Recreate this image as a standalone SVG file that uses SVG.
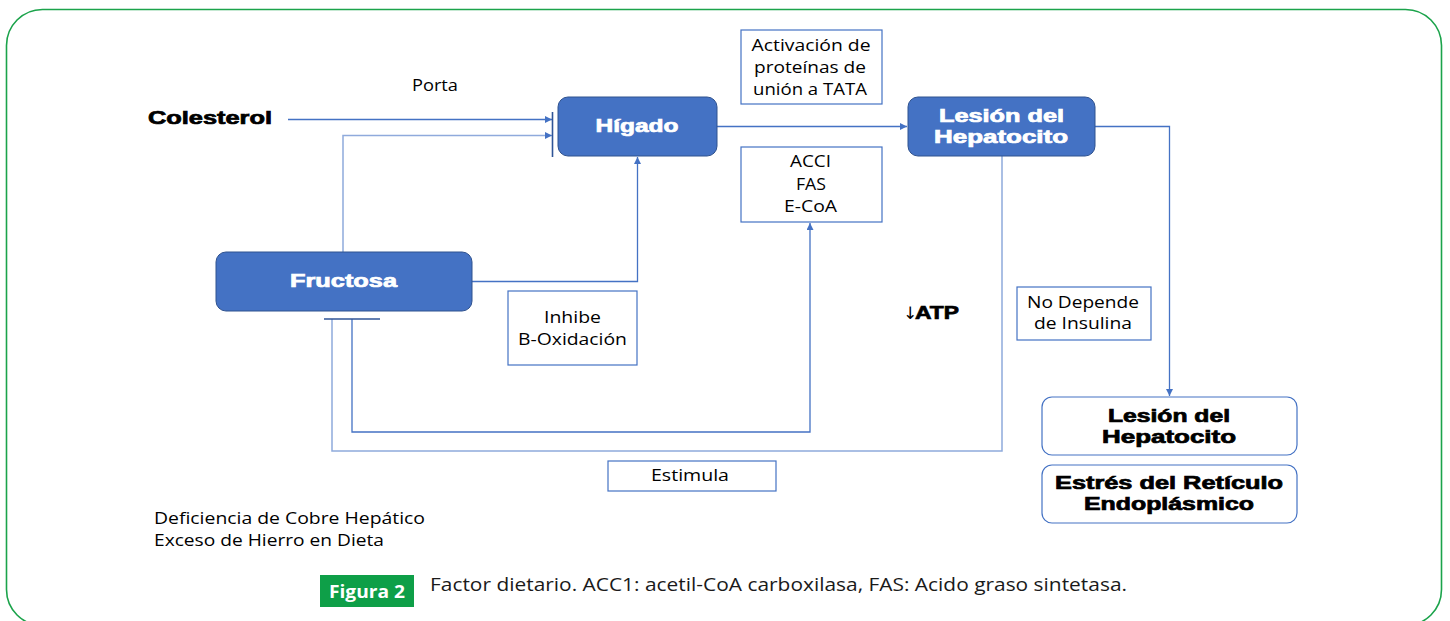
<svg xmlns="http://www.w3.org/2000/svg" width="1450" height="621" viewBox="0 0 1450 621">
<style>
.bn{fill:#4472C4;stroke:#2F528F;stroke-width:1}
.wn{fill:#fff;stroke:#4472C4;stroke-width:1.2}
.bx{fill:#fff;stroke:#4472C4;stroke-width:1.2}
.ln{fill:none;stroke:#4472C4;stroke-width:1.3}
.lt{fill:none;stroke:#8FAADC;stroke-width:1.5}
.bar{fill:none;stroke:#2F5597;stroke-width:1.6}
.hw{font-family:"Liberation Sans",Arial,sans-serif;font-weight:bold;font-size:18px;fill:#fff;stroke:#fff;stroke-width:0.7;text-anchor:middle}
.hk{font-family:"Liberation Sans",Arial,sans-serif;font-weight:bold;font-size:18px;fill:#000;stroke:#000;stroke-width:0.7;text-anchor:middle}
.t{font-family:"Open Sans","Liberation Sans",sans-serif;font-size:15.5px;fill:#000;text-anchor:middle}
.tl{font-family:"Open Sans","Liberation Sans",sans-serif;font-size:15.5px;fill:#000}
.cap{font-family:"Open Sans","Liberation Sans",sans-serif;font-size:19px;fill:#1a1a1a}
</style>
<defs>
<marker id="ah" viewBox="0 0 10 10" refX="10" refY="5" markerWidth="7" markerHeight="7" markerUnits="userSpaceOnUse" orient="auto">
<path d="M0,0 L10,5 L0,10 z" fill="#4472C4"/>
</marker>
</defs>
<rect x="6.5" y="9.5" width="1435" height="616" rx="36" fill="#fff" stroke="#1BA34B" stroke-width="1.6"/>
<g id="connectors">
<path class="ln" d="M288,119.5 H552" marker-end="url(#ah)"/>
<path class="lt" d="M343,252 V135.5 H552" marker-end="url(#ah)"/>
<path class="bar" d="M552.5,112 V157"/>
<path class="ln" d="M472,281.5 H637.5 V157" marker-end="url(#ah)"/>
<path class="ln" d="M717,126.5 H907" marker-end="url(#ah)"/>
<path class="ln" d="M1095,126.5 H1169.5 V396" marker-end="url(#ah)"/>
<path class="lt" d="M1002,156 V451 H332 V319"/>
<path class="ln" d="M352,319 V432 H810 V223" marker-end="url(#ah)"/>
<path class="bar" d="M324,319 H380"/>
</g>
<g id="colesterol"><text class="hk" x="210" y="124" textLength="124" lengthAdjust="spacingAndGlyphs">Colesterol</text></g>
<g id="porta"><text class="t" x="435" y="91" textLength="46" lengthAdjust="spacingAndGlyphs">Porta</text></g>
<g id="higado">
<rect class="bn" x="558" y="97" width="159" height="59" rx="10"/>
<text class="hw" x="637" y="132" textLength="83" lengthAdjust="spacingAndGlyphs">Hígado</text>
</g>
<g id="activacion">
<rect class="bx" x="741" y="30" width="141" height="74"/>
<text class="t" x="811" y="51" textLength="119" lengthAdjust="spacingAndGlyphs">Activación de</text>
<text class="t" x="810" y="73" textLength="112" lengthAdjust="spacingAndGlyphs">proteínas de</text>
<text class="t" x="810" y="95" textLength="114" lengthAdjust="spacingAndGlyphs">unión a TATA</text>
</g>
<g id="acci">
<rect class="bx" x="741" y="147" width="141" height="75"/>
<text class="t" x="810.5" y="167" textLength="41" lengthAdjust="spacingAndGlyphs">ACCI</text>
<text class="t" x="811" y="190" textLength="30" lengthAdjust="spacingAndGlyphs">FAS</text>
<text class="t" x="810.5" y="212" textLength="53" lengthAdjust="spacingAndGlyphs">E-CoA</text>
</g>
<g id="lesion1">
<rect class="bn" x="908" y="97" width="187" height="59" rx="10"/>
<text class="hw" x="1001.5" y="122" textLength="125" lengthAdjust="spacingAndGlyphs">Lesión del</text>
<text class="hw" x="1001" y="143" textLength="134" lengthAdjust="spacingAndGlyphs">Hepatocito</text>
</g>
<g id="fructosa">
<rect class="bn" x="216" y="252" width="256" height="59" rx="10"/>
<text class="hw" x="343.5" y="287" textLength="107" lengthAdjust="spacingAndGlyphs">Fructosa</text>
</g>
<g id="inhibe">
<rect class="bx" x="508" y="291" width="129" height="74"/>
<text class="t" x="572.5" y="323" textLength="57" lengthAdjust="spacingAndGlyphs">Inhibe</text>
<text class="t" x="572.5" y="345" textLength="109" lengthAdjust="spacingAndGlyphs">B-Oxidación</text>
</g>
<g id="atp"><text x="903" y="319" font-family="'DejaVu Sans',sans-serif" font-size="17" fill="#000">↓</text><text class="hk" x="937" y="319" textLength="44" lengthAdjust="spacingAndGlyphs">ATP</text></g>
<g id="nodepende">
<rect class="bx" x="1017" y="287" width="134" height="53"/>
<text class="t" x="1083" y="308" textLength="112" lengthAdjust="spacingAndGlyphs">No Depende</text>
<text class="t" x="1083" y="329" textLength="98" lengthAdjust="spacingAndGlyphs">de Insulina</text>
</g>
<g id="lesion2">
<rect class="wn" x="1042" y="397" width="255" height="58" rx="10"/>
<text class="hk" x="1169" y="422" textLength="122" lengthAdjust="spacingAndGlyphs">Lesión del</text>
<text class="hk" x="1169" y="443" textLength="134" lengthAdjust="spacingAndGlyphs">Hepatocito</text>
</g>
<g id="estres">
<rect class="wn" x="1042" y="465" width="255" height="58" rx="10"/>
<text class="hk" x="1169" y="489" textLength="228" lengthAdjust="spacingAndGlyphs">Estrés del Retículo</text>
<text class="hk" x="1169" y="510" textLength="170" lengthAdjust="spacingAndGlyphs">Endoplásmico</text>
</g>
<g id="estimula">
<rect class="bx" x="608" y="461" width="168" height="30"/>
<text class="t" x="690" y="481" textLength="78" lengthAdjust="spacingAndGlyphs">Estimula</text>
</g>
<g id="notas">
<text class="tl" x="154" y="524" textLength="271" lengthAdjust="spacingAndGlyphs">Deficiencia de Cobre Hepático</text>
<text class="tl" x="154" y="546" textLength="230" lengthAdjust="spacingAndGlyphs">Exceso de Hierro en Dieta</text>
</g>
<g id="caption">
<rect x="320" y="575" width="94" height="32" fill="#0E9F48"/>
<text x="367" y="598" font-family="'Open Sans','Liberation Sans',sans-serif" font-weight="bold" font-size="18" fill="#fff" text-anchor="middle" textLength="76" lengthAdjust="spacingAndGlyphs">Figura 2</text>
<text class="cap" x="430" y="591" textLength="697" lengthAdjust="spacingAndGlyphs">Factor dietario. ACC1: acetil-CoA carboxilasa, FAS: Acido graso sintetasa.</text>
</g>
</svg>
